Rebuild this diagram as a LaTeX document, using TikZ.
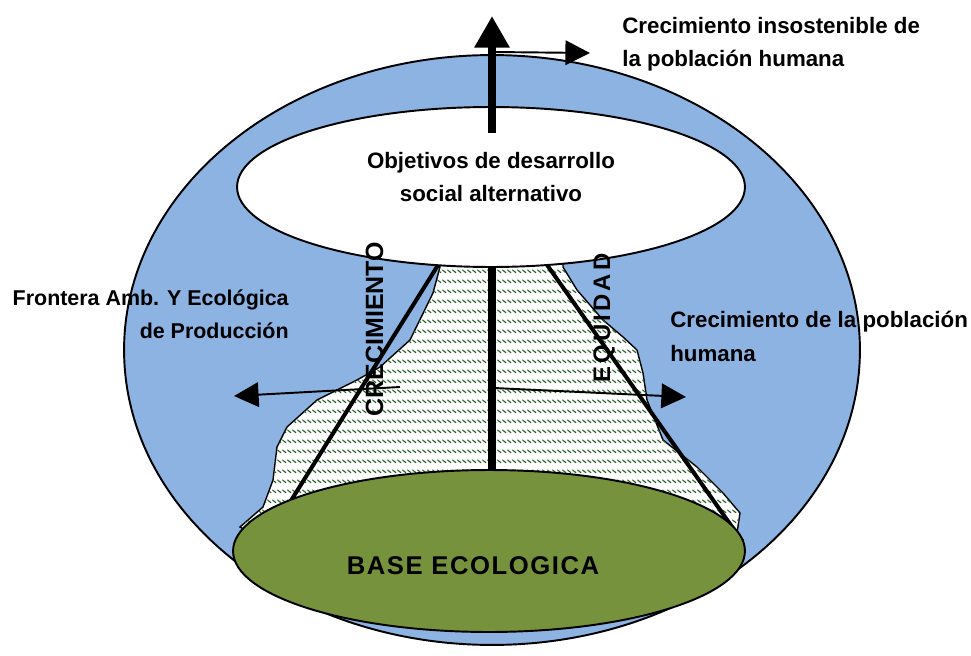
\documentclass[tikz,border=0pt]{standalone}
\usepackage{fontspec}
\setmainfont{Liberation Sans}
\usetikzlibrary{shapes.geometric,arrows.meta,patterns.meta}

\definecolor{skyblue}{RGB}{141,179,226}
\definecolor{basegreen}{RGB}{118,146,60}
\definecolor{hatchgreen}{RGB}{40,95,40}

% short diagonal dashes in rows
\pgfdeclarepattern{
  name=dashdiag,
  type=uncolored,
  bottom left={\pgfpoint{0pt}{0pt}},
  top right={\pgfpoint{3pt}{5.7pt}},
  tile size={\pgfpoint{3pt}{5.7pt}},
  code={
    \pgfsetlinewidth{0.7pt}
    \pgfsetroundcap
    \pgfpathmoveto{\pgfpoint{0.4pt}{3.7pt}}
    \pgfpathlineto{\pgfpoint{2.5pt}{2.1pt}}
    \pgfusepath{stroke}
  }
}

\begin{document}
\begin{tikzpicture}[x=0.02cm,y=-0.02cm,
	lbl/.style={font=\fontsize{12.7pt}{19pt}\selectfont\bfseries, inner sep=0},
	vlbl/.style={font=\fontsize{14.2pt}{17pt}\selectfont\bfseries, inner sep=0, rotate=90, anchor=base},
	oval/.style={draw, ellipse, line width=1.1pt, inner sep=0},
	bar/.style={line width=2.3pt},
	harrow/.style={line width=1.1pt, -{Triangle[width=14pt,length=14pt]}},
	bigarrow/.style={line width=4.5pt, -{Triangle[width=19pt,length=18pt]}}]
	\useasboundingbox (0,0) rectangle (971,656);

	\node[oval, fill=skyblue, minimum width=14.72cm, minimum height=11.8cm] (world) at (492,350) {};

	% hatched zone
	\filldraw[fill=white, line width=0.8pt] (440,250) -- (440,267) -- (433,293) -- (410,340) -- (380,367) -- (357,380)
		-- (317,400) -- (287,427) -- (277,447) -- (273,480) -- (263,507) -- (240,527) -- (300,560)
		-- (700,560) -- (743,540) -- (737,533) -- (740,513) -- (723,493) -- (697,467) -- (663,440)
		-- (647,400) -- (643,373) -- (637,350) -- (623,337) -- (603,320) -- (577,290) -- (563,267) -- (563,250) -- cycle;
	\fill[pattern=dashdiag, pattern color=hatchgreen] (440,250) -- (440,267) -- (433,293) -- (410,340) -- (380,367) -- (357,380)
		-- (317,400) -- (287,427) -- (277,447) -- (273,480) -- (263,507) -- (240,527) -- (300,560)
		-- (700,560) -- (743,540) -- (737,533) -- (740,513) -- (723,493) -- (697,467) -- (663,440)
		-- (647,400) -- (643,373) -- (637,350) -- (623,337) -- (603,320) -- (577,290) -- (563,267) -- (563,250) -- cycle;

	\coordinate (c0) at (440,262);
	\coordinate (c1) at (287,507);
	\coordinate (e0) at (545,262);
	\coordinate (e1) at (742,541);
	\coordinate (m0) at (492,262);
	\coordinate (m1) at (492,480);
	\draw[bar] (c0) -- (c1);
	\draw[bar] (e0) -- (e1);
	\draw[line width=4.5pt] (m0) -- (m1);

	\node[oval, fill=white, minimum width=10.16cm, minimum height=3.2cm] (goal) at (491,187) {};
	\node[oval, fill=basegreen, minimum width=10.24cm, minimum height=3.24cm] (base) at (489,551) {};

	% arrows
	\coordinate (s0) at (492,133);
	\coordinate (s1) at (492,16);
	\coordinate (r0) at (494,52);
	\coordinate (r1) at (590,53);
	\draw[bigarrow] (s0) -- (s1);
	\draw[harrow] (r0) -- (r1);

	\coordinate (l0) at (400,387);
	\coordinate (l1) at (234,396);
	\coordinate (q0) at (494,388);
	\coordinate (q1) at (686,397);
	\draw[harrow] (l0) -- (l1);
	\draw[harrow] (q0) -- (q1);

	% texts
	\node[lbl, anchor=north west, align=left] (insost) at (622,17) {Crecimiento insostenible de\\la población humana};
	\node[lbl, font=\fontsize{12.2pt}{19pt}\selectfont\bfseries, anchor=north east, align=right] (front) at (289,289) {Frontera Amb. Y Ecológica\\de Producción};
	\node[lbl, anchor=north west, align=left] (pobl) at (670,311) {Crecimiento de la población\\humana};
	\node[lbl, anchor=north, align=center] (obj) at (491,152) {Objetivos de desarrollo\\social alternativo};
	\node[font=\fontsize{14.6pt}{17pt}\selectfont\bfseries\addfontfeature{LetterSpace=6}, inner sep=0, anchor=base] (eco) at (473,574) {BASE ECOLOGICA};

	\node[vlbl] (crec) at (383,329) {CRECIMIENTO};
	\node[vlbl, font=\fontsize{13.6pt}{17pt}\selectfont\bfseries\addfontfeature{LetterSpace=13}] (equi) at (610,318) {EQUIDAD};
\end{tikzpicture}
\end{document}
